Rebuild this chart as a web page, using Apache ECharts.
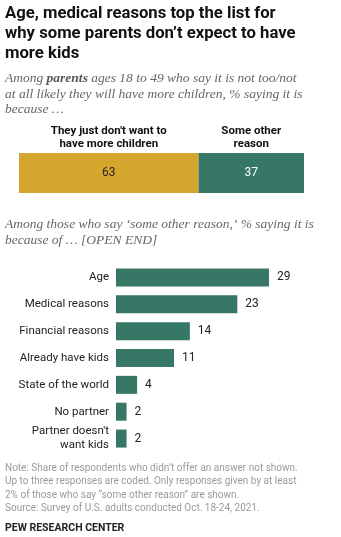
<!DOCTYPE html>
<html><head><meta charset="utf-8">
<script src="https://cdn.jsdelivr.net/npm/echarts@6/dist/echarts.min.js"></script>
<style>html,body{margin:0;padding:0;background:#fff}#c{width:341px;height:537px}</style>
</head><body><div id="c"></div>
<script>
// Top split: why parents don't expect more kids
const splitLabels = ["They just don't want to\nhave more children", "Some other\nreason"];
const splitValues = [63, 37];
const splitColors = ['#D4A62E', '#377766'];
const splitTextColors = ['#2a2a2a', '#ffffff'];

// Open-end reasons among "some other reason"
const reasonCategories = ['Age', 'Medical reasons', 'Financial reasons', 'Already have kids', 'State of the world', 'No partner', "Partner doesn't\nwant kids"];
const reasonValues = [29, 23, 14, 11, 4, 2, 2];

const titleText = "Age, medical reasons top the list for\nwhy some parents don\u2019t expect to have\nmore kids";
const subtitleText = "Among {b|parents} ages 18 to 49 who say it is not too/not\nat all likely they will have more children, % saying it is\nbecause \u2026";
const subtitle2Text = "Among those who say \u2018some other reason,\u2019 % saying it is\nbecause of \u2026 [OPEN END]";
const noteText = "Note: Share of respondents who didn\u2019t offer an answer not shown.\nUp to three responses are coded. Only responses given by at least\n2% of those who say \u201csome other reason\u201d are shown.\nSource: Survey of U.S. adults conducted Oct. 18-24, 2021.";
const sourceText = "PEW RESEARCH CENTER";

const SANS = 'Roboto, "Liberation Sans", sans-serif';
const SERIF = '"Liberation Serif", "DejaVu Serif", serif';
const GREEN = '#377766';

const chart = echarts.init(document.getElementById('c'), null, { renderer: 'canvas' });

const splitSeries = splitValues.map((v, i) => ({
  type: 'bar',
  stack: 'split',
  xAxisIndex: 0,
  yAxisIndex: 0,
  barWidth: 40,
  data: [v],
  itemStyle: { color: splitColors[i] },
  label: {
    show: true,
    position: 'inside',
    formatter: '{c}',
    color: splitTextColors[i],
    fontFamily: SANS,
    fontSize: 12
  },
  silent: true
}));

chart.setOption({
  animation: false,
  backgroundColor: '#ffffff',
  grid: [
    { left: 19, top: 153, width: 285, height: 40 },
    { left: 116, top: 264, width: 211, height: 188 }
  ],
  xAxis: [
    { gridIndex: 0, type: 'value', min: 0, max: 100, show: false },
    { gridIndex: 1, type: 'value', min: 0, max: 40, show: false }
  ],
  yAxis: [
    { gridIndex: 0, type: 'category', data: [''], show: false },
    {
      gridIndex: 1, type: 'category', data: reasonCategories, inverse: true,
      axisLine: { show: false }, axisTick: { show: false },
      axisLabel: { margin: 7, color: '#222', fontFamily: SANS, fontSize: 11.5, lineHeight: 14, align: 'right' }
    }
  ],
  series: splitSeries.concat([{
    type: 'bar',
    xAxisIndex: 1,
    yAxisIndex: 1,
    barWidth: 18,
    data: reasonValues,
    itemStyle: { color: GREEN },
    label: { show: true, position: 'right', distance: 8, color: '#222', fontFamily: SANS, fontSize: 12 },
    silent: true
  }])
});

// Header labels centered over each segment of the split bar
let cum = 0;
const headers = splitLabels.map((t, i) => {
  const mid = cum + splitValues[i] / 2;
  cum += splitValues[i];
  const x = chart.convertToPixel({ xAxisIndex: 0 }, mid);
  return {
    type: 'text', x: x, y: 124.5,
    style: { text: t, fill: '#111', font: 'bold 11.5px ' + SANS, lineHeight: 13, align: 'center', verticalAlign: 'top' }
  };
});

chart.setOption({
  graphic: [
    { type: 'text', x: 5, y: 4, style: { text: titleText, fill: '#111', font: 'bold 16.7px ' + SANS, lineHeight: 20, verticalAlign: 'top' } },
    { type: 'text', x: 5, y: 71, style: {
        text: subtitleText, fill: '#666', font: 'italic 13.5px ' + SERIF, lineHeight: 15.5, verticalAlign: 'top',
        rich: { b: { fontWeight: 'bold', fontStyle: 'italic', fontFamily: SERIF, fontSize: 13.5, fill: '#555', lineHeight: 15.5 } }
      } },
    { type: 'text', x: 5, y: 217, style: { text: subtitle2Text, fill: '#666', font: 'italic 13.5px ' + SERIF, lineHeight: 15.5, verticalAlign: 'top' } },
    { type: 'text', x: 5, y: 462, style: { text: noteText, fill: '#9a9a9a', font: '10px ' + SANS, lineHeight: 13.3, verticalAlign: 'top' } },
    { type: 'text', x: 5, y: 521.5, style: { text: sourceText, fill: '#222', font: 'bold 10.5px ' + SANS, lineHeight: 13, verticalAlign: 'top' } }
  ].concat(headers)
});
</script>
</body></html>
